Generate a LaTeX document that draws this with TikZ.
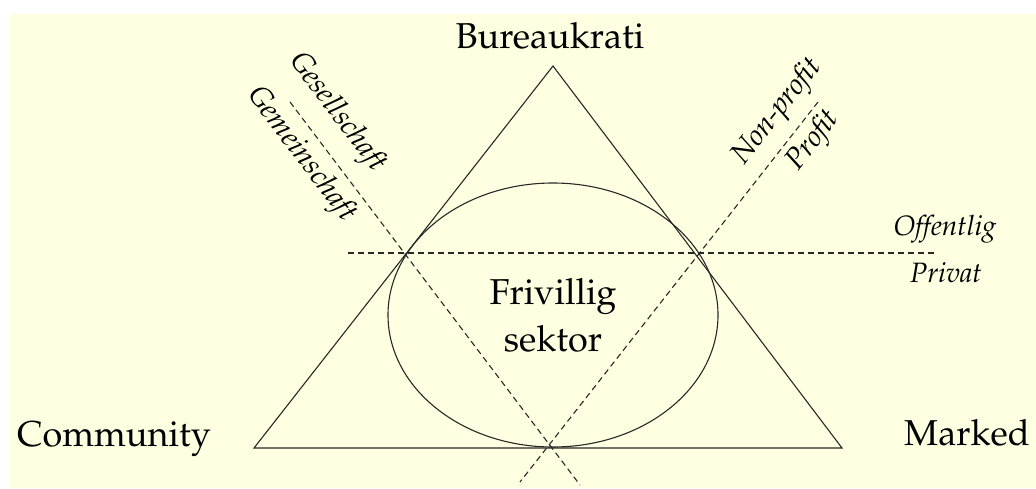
\documentclass[tikz,border=0pt]{standalone}
\usepackage[T1]{fontenc}
\usepackage{mathpazo}
\usetikzlibrary{shapes.geometric}
\definecolor{bg}{RGB}{255,255,225}
\definecolor{ink}{RGB}{40,40,40}
\begin{document}
\begin{tikzpicture}[x=1pt,y=-1pt,
  bigtext/.style={font=\fontsize{36}{47}\selectfont, inner sep=0pt, text=black},
  labeltext/.style={font=\fontsize{28}{32}\selectfont\itshape, inner sep=0pt, text=black},
  rotlabel/.style={labeltext, font=\fontsize{29.5}{32}\selectfont\itshape},
  solidline/.style={draw=ink, line width=1.1pt},
  divider/.style={draw=ink, line width=1.1pt, dash pattern=on 6pt off 4pt}]
\useasboundingbox (0,0) rectangle (1036,488);
\fill[bg] (10,14) rectangle (1036,488);
% triangle
\coordinate (A) at (553,66);
\coordinate (L) at (254,448);
\coordinate (R) at (842,448);
\draw[solidline, line join=miter] (A) -- (L) -- (R) -- cycle;
% ellipse with text
\node[ellipse, solidline, minimum width=330pt, minimum height=264pt, inner sep=0pt,
      bigtext, align=center] (sector) at (553,315) {Frivillig\\sektor};
% dashed dividers
\coordinate (h1) at (348,253);
\coordinate (h2) at (935,253);
\draw[divider] (h1) -- (h2);
\coordinate (g1) at (290,102);
\coordinate (g2) at (580,485);
\draw[divider] (g1) -- (g2);
\coordinate (p1) at (818,102);
\coordinate (p2) at (520,482);
\draw[divider] (p1) -- (p2);
% corner labels
\node[bigtext, anchor=base] (bur) at (550,48) {Bureaukrati};
\node[bigtext, anchor=base] (com) at (114,446) {Community};
\node[bigtext, anchor=base] (mar) at (967,445) {Marked};
% divider labels
\node[labeltext, anchor=base] (off) at (945,235) {Offentlig};
\node[labeltext, anchor=base] (pri) at (946,282) {Privat};
\node[rotlabel, rotate=-52.9] (ges) at (337,113) {Gesellschaft};
\node[rotlabel, rotate=-52.9] (gem) at (301,155) {Gemeinschaft};
\node[rotlabel, rotate=51.9] (non) at (778,112) {Non-profit};
\node[rotlabel, rotate=51.9] (pro) at (814,141) {Profit};
\end{tikzpicture}
\end{document}
